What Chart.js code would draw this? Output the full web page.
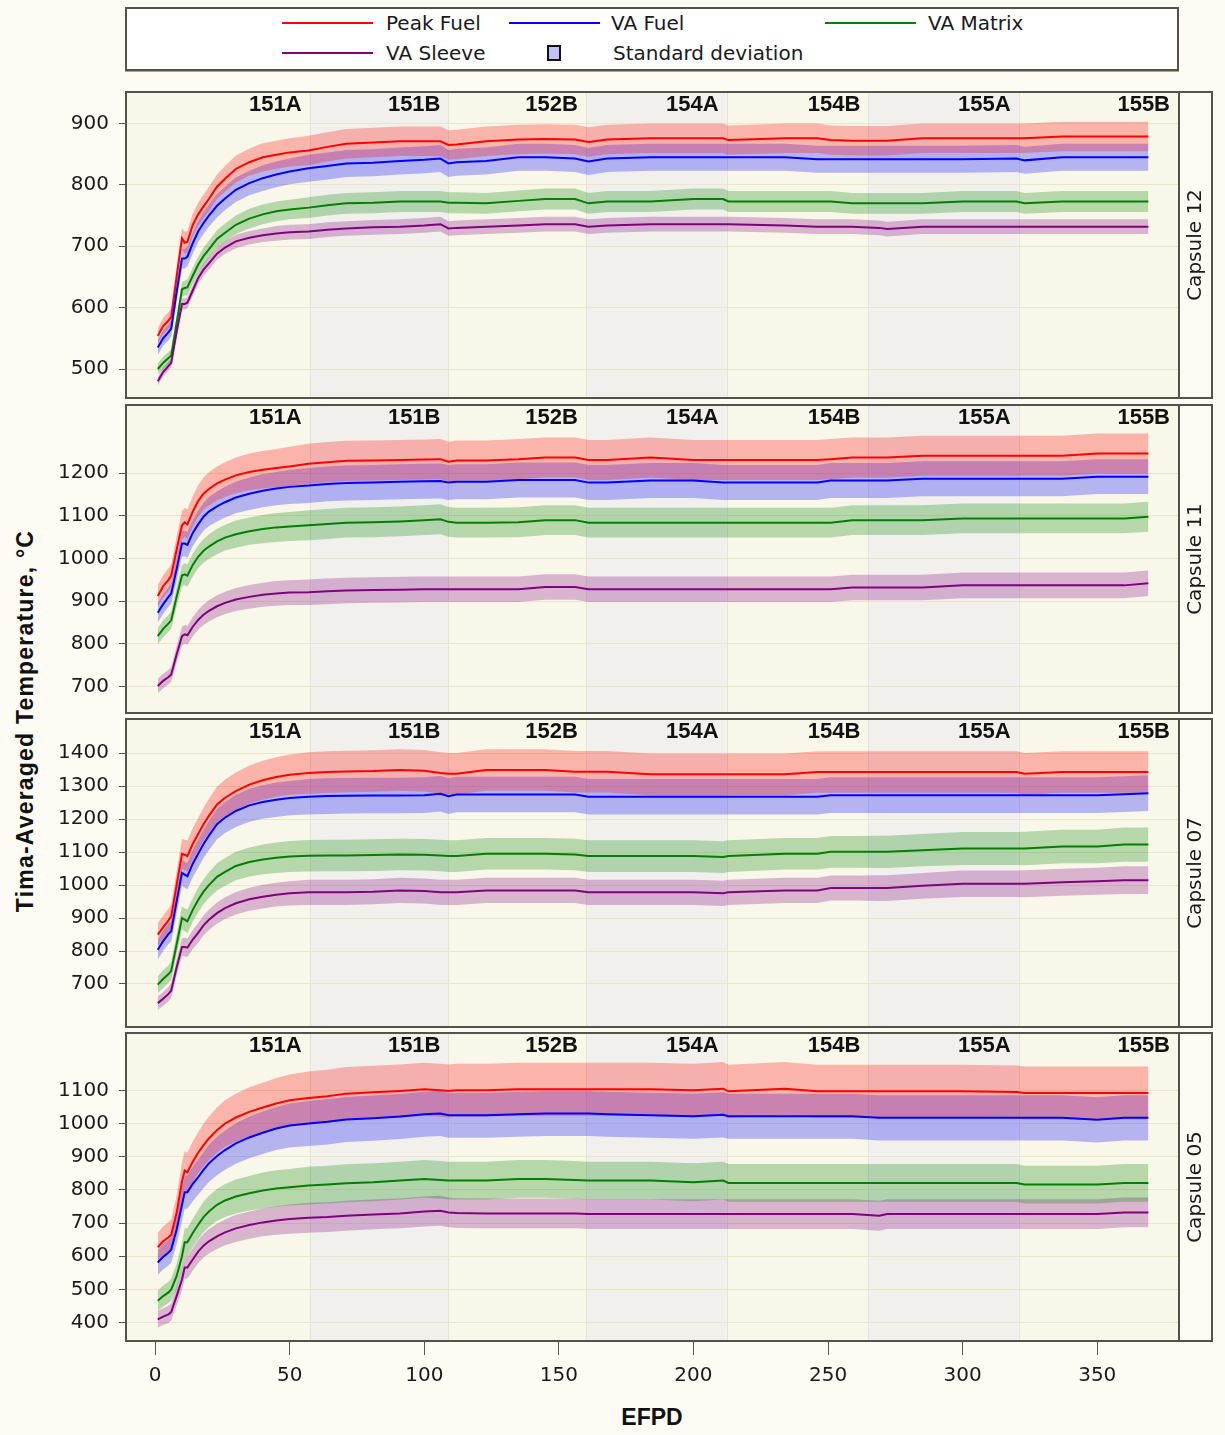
<!DOCTYPE html>
<html>
<head>
<meta charset="utf-8">
<script src="https://cdn.jsdelivr.net/npm/chart.js@4.4.1/dist/chart.umd.min.js"></script>
<style>
html,body{margin:0;padding:0;background:#FDFBF3;}
body{width:1225px;height:1435px;position:relative;overflow:hidden;font-family:"DejaVu Sans",sans-serif;color:#1a1a1a;}
canvas.pn{position:absolute;left:0;}
#legend{position:absolute;left:125px;top:7px;width:1054px;height:64px;box-sizing:border-box;background:#fff;border:2px solid #55524a;box-shadow:0 1px 0 #a9a598;}
.lline{position:absolute;height:2px;}
.ltext{position:absolute;font-size:20px;line-height:24px;white-space:nowrap;color:#1a1a1a;}
#swatch{position:absolute;left:547px;top:45px;width:14px;height:16px;box-sizing:border-box;background:#C0C0F6;border:2px solid #111;}
#ytitle{position:absolute;left:25px;top:721px;transform:translate(-50%,-50%) rotate(-90deg);font-family:"Liberation Sans",Arial,sans-serif;font-weight:bold;font-size:23px;letter-spacing:1.2px;white-space:nowrap;color:#111;}
#xtitle{position:absolute;left:652px;top:1417px;transform:translate(-50%,-50%);font-family:"Liberation Sans",Arial,sans-serif;font-weight:bold;font-size:23px;white-space:nowrap;color:#111;}
</style>
</head>
<body>
<div id="legend"></div>
<div class="lline" style="left:282px;top:22px;width:91px;background:#ff0000"></div>
<div class="ltext" style="left:386px;top:11px">Peak Fuel</div>
<div class="lline" style="left:509px;top:22px;width:91px;background:#0000ff"></div>
<div class="ltext" style="left:611px;top:11px">VA Fuel</div>
<div class="lline" style="left:825px;top:22px;width:91px;background:#008000"></div>
<div class="ltext" style="left:928px;top:11px">VA Matrix</div>
<div class="lline" style="left:282px;top:52px;width:91px;background:#800080"></div>
<div class="ltext" style="left:386px;top:41px">VA Sleeve</div>
<div id="swatch"></div>
<div class="ltext" style="left:613px;top:41px">Standard deviation</div>
<div id="ytitle">Tima-Averaged Temperature, °C</div>
<div id="xtitle">EFPD</div>
<canvas class="pn" id="p1"></canvas>
<canvas class="pn" id="p2"></canvas>
<canvas class="pn" id="p3"></canvas>
<canvas class="pn" id="p4"></canvas>
<script>
// ---------------- DATA ----------------
const efpd = [1,3,5,6,8,10,11,12,14,16,18,20,23,26,30,35,40,45,50,57,64,71,81,91,100,106,109,112,123,135,145,156,161,168,184,200,211,213,234,246,251,259,269,272,285,300,320,323,337,350,360,369];

const cycleNames = ['151A','151B','152B','154A','154B','155A','155B'];
const cycleStart = [0,57.4,109,160,212.3,265,320.8];
const cycleEnd   = [57.4,109,160,212.3,265,320.8,380];
const cycleShaded = [false,true,false,true,false,true,false];

const xTicks = [0,50,100,150,200,250,300,350];
const capsuleLabels = ['Capsule 12','Capsule 11','Capsule 07','Capsule 05'];
const yTicks12 = [500,600,700,800,900];
const yTicks11 = [700,800,900,1000,1100,1200];
const yTicks07 = [700,800,900,1000,1100,1200,1300,1400];
const yTicks05 = [400,500,600,700,800,900,1000,1100];
const seriesNames = ['Peak Fuel','VA Fuel','VA Matrix','VA Sleeve'];

// Capsule 12
const c12Peak   = [554,570,579,585,650,713,706,707,735,752,765,777,797,810,826,837,845,849,853,856,862,867,869,871,871,871,865,866,871,874,875,874,870,874,876,876,876,873,876,876,873,872,872,872,876,876,876,876,879,879,879,879];
const c12Fuel   = [535,550,560,566,625,680,680,683,705,724,738,750,766,778,792,803,811,817,822,827,831,835,836,839,841,843,835,837,839,845,845,843,838,843,845,845,845,845,845,842,842,842,842,842,842,842,843,840,845,845,845,845];
const c12Matrix = [500,510,518,522,575,630,632,633,652,670,684,695,712,722,735,745,752,757,760,763,767,770,771,773,773,773,771,771,770,774,777,777,770,773,773,777,777,773,773,773,773,770,770,770,770,773,773,770,773,773,773,773];
const c12Sleeve = [480,495,505,510,560,606,606,608,628,648,662,672,688,698,708,714,718,721,723,724,727,729,731,732,734,736,729,730,732,734,736,736,732,734,736,736,736,736,734,732,732,732,730,728,732,732,732,732,732,732,732,732];
const c12PeakSd   = [13,13,14,14,16,17,18,18,18,19,19,20,20,21,22,22,23,23,23, 24,24,24,24,24,24,24,24,24,24,24, 24,24,24,24,24,24,24,24,24,24,24, 24,24,24,24,24,24,24,24,24,24,24];
const c12FuelSd   = [12,12,13,13,14,16,16,16,17,17,18,18,19,19,20,20,21,21,21, 22,22,22,22,22,22,22,22,22,22,22, 22,22,22,22,22,22,22,22,22,22,22, 22,22,22,22,22,22,22,22,22,22,22];
const c12MatrixSd = [9,10,10,10,11,12,12,13,13,13,14,14,14,15,15,16,16,16,16, 17,17,17,17,17,17,17,17,17,17,17, 17,17,17,17,17,17,17,17,17,17,17, 17,17,17,17,17,17,17,17,17,17,17];
const c12SleeveSd = [7,7,7,7,8,9,9,9,9,9,10,10,10,10,11,11,11,12,12, 12,12,12,12,12,12,12,12,12,12,12, 12,12,12,12,12,12,12,12,12,12,12, 12,12,12,12,12,12,12,12,12,12,12];

// Capsule 11
const c11Peak   = [912,935,950,960,1020,1078,1085,1080,1110,1135,1152,1163,1176,1185,1195,1203,1208,1212,1216,1222,1226,1229,1230,1231,1232,1233,1227,1230,1230,1233,1237,1237,1231,1231,1237,1231,1231,1231,1231,1231,1233,1237,1237,1237,1241,1241,1241,1241,1241,1246,1246,1246];
const c11Fuel   = [873,893,910,918,975,1035,1035,1032,1060,1080,1098,1110,1122,1132,1143,1152,1159,1164,1168,1171,1175,1177,1178,1180,1181,1182,1178,1180,1180,1184,1184,1184,1178,1178,1183,1183,1178,1178,1178,1178,1183,1183,1183,1183,1187,1187,1187,1187,1187,1192,1192,1192];
const c11Matrix = [818,835,848,855,910,960,963,960,985,1004,1018,1028,1040,1049,1057,1064,1069,1073,1075,1078,1081,1084,1085,1087,1090,1092,1086,1084,1084,1085,1090,1090,1084,1084,1084,1084,1084,1084,1084,1084,1084,1090,1090,1090,1090,1094,1094,1094,1094,1094,1094,1098];
const c11Sleeve = [701,713,722,728,775,818,822,820,840,856,868,877,888,896,904,910,915,918,920,921,923,925,926,927,928,928,928,928,928,928,933,933,928,928,928,928,928,928,928,928,928,932,932,932,932,937,937,937,937,937,937,942];
const c11PeakSd   = [26,26,27,27,31,34,34,35,36,37,38,39,40,41,42,43,44,45,46, 47,47,47,47,47,47,47,47,47,47,47, 47,47,47,47,47,47,47,47,47,47,47, 47,47,47,47,47,47,47,47,47,47,47];
const c11FuelSd   = [23,23,23,24,27,30,30,30,31,32,33,34,35,36,37,38,39,39,40, 41,41,41,41,41,41,41,41,41,41,41, 41,41,41,41,41,41,41,41,41,41,41, 41,41,41,41,41,41,41,41,41,41,41];
const c11MatrixSd = [19,20,20,20,23,25,26,26,27,27,28,29,30,30,32,32,33,34,34, 35,35,35,35,35,35,35,35,35,35,35, 35,35,35,35,35,35,35,35,35,35,35, 35,35,35,35,35,35,35,35,35,35,35];
const c11SleeveSd = [17,17,17,17,20,22,22,22,23,23,24,25,26,26,27,28,28,29,29, 30,30,30,30,30,30,30,30,30,30,30, 30,30,30,30,30,30,30,30,30,30,30, 30,30,30,30,30,30,30,30,30,30,30];

// Capsule 07
const c07Peak   = [850,872,893,905,1000,1095,1092,1088,1125,1155,1185,1210,1245,1265,1285,1305,1318,1328,1335,1340,1343,1345,1346,1349,1347,1340,1338,1338,1349,1349,1349,1344,1344,1344,1336,1336,1336,1336,1336,1343,1343,1343,1343,1343,1343,1343,1343,1338,1343,1343,1343,1343];
const c07Fuel   = [804,830,852,860,950,1037,1032,1027,1065,1095,1125,1150,1185,1205,1225,1242,1252,1259,1264,1268,1270,1271,1272,1272,1273,1277,1270,1275,1275,1275,1275,1275,1268,1268,1268,1268,1268,1268,1268,1268,1273,1273,1273,1273,1273,1273,1273,1273,1273,1273,1276,1279];
const c07Matrix = [698,715,730,740,820,900,895,890,925,955,980,1000,1025,1040,1058,1070,1078,1083,1087,1089,1090,1090,1091,1093,1092,1090,1088,1088,1095,1095,1095,1093,1088,1088,1088,1088,1085,1088,1095,1095,1101,1101,1101,1101,1106,1111,1111,1111,1117,1117,1123,1123];
const c07Sleeve = [642,655,670,680,750,812,812,810,835,855,878,895,915,930,945,957,965,971,975,978,978,978,980,984,982,978,978,978,984,984,984,984,978,978,978,978,975,978,984,984,991,991,991,991,998,1004,1004,1004,1009,1012,1015,1015];
const c07PeakSd   = [35,35,36,37,41,45,46,47,48,49,50,52,54,55,57,58,59,60,61, 63,63,63,63,63,63,63,63,63,63,63, 63,63,63,63,63,63,63,63,63,63,63, 63,63,63,63,63,63,63,63,63,63,63];
const c07FuelSd   = [30,30,31,31,35,39,39,40,41,42,43,44,46,47,49,50,51,52,52, 54,54,54,54,54,54,54,54,54,54,54, 54,54,54,54,54,54,54,54,54,54,54, 54,54,54,54,54,54,54,54,54,54,54];
const c07MatrixSd = [26,27,27,28,31,35,35,36,36,37,38,39,41,42,43,44,45,46,47, 48,48,48,48,48,48,48,48,48,48,48, 48,48,48,48,48,48,48,48,48,48,48, 48,49,49,49,50,50,51,51,51,52,52];
const c07SleeveSd = [21,21,22,22,25,27,28,28,29,30,30,31,32,33,34,35,36,36,37, 38,38,38,38,38,38,38,38,38,38,38, 38,38,38,38,38,38,38,38,38,38,38, 38,39,39,39,40,40,41,41,41,42,42];

// Capsule 05
const c05Peak   = [627,645,657,665,730,825,858,853,885,912,935,955,980,1000,1018,1035,1048,1060,1070,1077,1082,1090,1094,1098,1103,1100,1098,1100,1100,1103,1103,1103,1103,1103,1103,1100,1105,1097,1105,1097,1097,1097,1097,1097,1097,1097,1095,1092,1092,1092,1092,1092];
const c05Fuel   = [581,598,611,620,680,755,793,793,818,838,860,880,902,920,940,958,972,985,994,1000,1005,1012,1016,1021,1028,1030,1025,1025,1025,1028,1030,1030,1030,1028,1025,1022,1026,1022,1022,1022,1022,1022,1017,1017,1017,1017,1017,1017,1017,1011,1017,1017];
const c05Matrix = [466,480,491,500,540,600,642,642,670,695,718,735,755,768,780,790,798,804,808,813,816,820,823,828,833,830,828,828,828,833,833,830,828,828,828,823,828,821,821,821,821,821,821,821,821,821,821,816,816,816,821,821];
const c05Sleeve = [410,418,425,432,480,530,566,566,590,614,632,645,660,672,684,694,702,708,712,716,718,722,726,729,735,737,732,730,729,729,729,729,727,727,727,727,727,727,727,727,727,727,722,727,727,727,727,727,727,727,732,732];
const c05PeakSd   = [44,45,46,46,52,58,58,59,61,62,64,66,68,70,72,74,75,77,78, 80,80,80,80,80,80,80,80,80,80,80, 80,80,80,80,80,80,80,80,80,80,80, 80,80,80,80,80,80,80,80,80,80,80];
const c05FuelSd   = [37,38,39,39,44,49,50,50,52,53,54,56,58,59,61,63,64,65,66, 68,68,68,68,68,68,68,68,68,68,68, 68,68,68,68,68,68,68,68,68,68,68, 68,68,68,68,68,68,68,68,68,68,68];
const c05MatrixSd = [31,32,32,33,37,41,42,42,43,44,46,47,48,50,51,52,54,55,55, 57,57,57,57,57,57,57,57,57,57,57, 57,57,57,57,57,57,57,57,57,57,57, 57,57,57,57,57,57,57,57,57,57,57];
const c05SleeveSd = [25,25,26,26,29,32,33,33,34,35,36,37,38,39,41,41,42,43,44, 45,45,45,45,45,45,45,45,45,45,45, 45,45,45,45,45,45,45,45,45,45,45, 45,45,45,45,45,45,45,45,45,45,45];

// ---------------- STYLE / LAYOUT ----------------
const lineColors = ['#ff0000','#0000ff','#008000','#800080'];
const bandColors = ['rgba(255,0,0,0.27)','rgba(0,0,255,0.27)','rgba(0,128,0,0.27)','rgba(128,0,128,0.27)'];
const FONT = '"DejaVu Sans", sans-serif';
const PLOT_LEFT = 126, PLOT_RIGHT = 1178, STRIP_RIGHT = 1212;

const panels = [
  {canvas:'p1', top:92,   h:306, min:452.8, max:951.4,  ticks:yTicks12, label:capsuleLabels[0],
   means:[c12Peak,c12Fuel,c12Matrix,c12Sleeve], sds:[c12PeakSd,c12FuelSd,c12MatrixSd,c12SleeveSd]},
  {canvas:'p2', top:405,  h:308, min:637.7, max:1360,   ticks:yTicks11, label:capsuleLabels[1],
   means:[c11Peak,c11Fuel,c11Matrix,c11Sleeve], sds:[c11PeakSd,c11FuelSd,c11MatrixSd,c11SleeveSd]},
  {canvas:'p3', top:719,  h:308, min:569.5, max:1504,   ticks:yTicks07, label:capsuleLabels[2],
   means:[c07Peak,c07Fuel,c07Matrix,c07Sleeve], sds:[c07PeakSd,c07FuelSd,c07MatrixSd,c07SleeveSd]},
  {canvas:'p4', top:1033, h:308, min:344.6, max:1272.7, ticks:yTicks05, label:capsuleLabels[3],
   means:[c05Peak,c05Fuel,c05Matrix,c05Sleeve], sds:[c05PeakSd,c05FuelSd,c05MatrixSd,c05SleeveSd]}
];

const decor = {
  id:'decor',
  beforeDraw(chart){
    const {ctx, chartArea:a, scales:{x}} = chart;
    ctx.save();
    ctx.fillStyle = '#F9F7EA';
    ctx.fillRect(a.left, a.top, a.right-a.left, a.bottom-a.top);
    for (let i=0;i<cycleNames.length;i++){
      const x0 = Math.max(a.left, x.getPixelForValue(cycleStart[i]));
      const x1 = Math.min(a.right, x.getPixelForValue(cycleEnd[i]));
      if (cycleShaded[i]) { ctx.fillStyle = '#F1F0EC'; ctx.fillRect(x0, a.top, x1-x0, a.bottom-a.top); }
    }
    ctx.strokeStyle = '#E7E3D3'; ctx.lineWidth = 1;
    for (let i=0;i<cycleNames.length-1;i++){
      const xe = Math.round(x.getPixelForValue(cycleEnd[i]))+0.5;
      ctx.beginPath(); ctx.moveTo(xe, a.top); ctx.lineTo(xe, a.bottom); ctx.stroke();
    }
    ctx.restore();
  },
  afterDraw(chart, args, opts){
    const {ctx, chartArea:a, scales:{x}} = chart;
    ctx.save();
    ctx.font = 'bold 22px "Liberation Sans", Arial, sans-serif';
    ctx.fillStyle = '#111'; ctx.textAlign = 'right'; ctx.textBaseline = 'middle';
    for (let i=0;i<cycleNames.length;i++){
      const xr = Math.min(x.getPixelForValue(cycleEnd[i]) - 8, a.right - 8);
      ctx.fillText(cycleNames[i], xr, a.top + 13);
    }
    // frame
    ctx.strokeStyle = '#55524a'; ctx.lineWidth = 2;
    ctx.strokeRect(a.left, a.top, STRIP_RIGHT - a.left, a.bottom - a.top);
    ctx.beginPath(); ctx.moveTo(a.right+1, a.top); ctx.lineTo(a.right+1, a.bottom); ctx.stroke();
    // strip label
    ctx.translate((a.right + STRIP_RIGHT)/2 + 1, (a.top + a.bottom)/2);
    ctx.rotate(-Math.PI/2);
    ctx.font = '20px ' + FONT; ctx.fillStyle = '#1a1a1a';
    ctx.textAlign = 'center'; ctx.textBaseline = 'middle';
    ctx.fillText(opts.label, 0, 0);
    ctx.restore();
  }
};

function buildDatasets(p){
  const ds = [];
  for (let s=0;s<4;s++){
    ds.push({label: seriesNames[s]+' +SD', data: efpd.map((e,i)=>({x:e, y:p.means[s][i]+p.sds[s][i]})),
      borderWidth:0, borderColor:'rgba(0,0,0,0)', backgroundColor:bandColors[s], fill:'+1', pointRadius:0, tension:0});
    ds.push({label: seriesNames[s]+' -SD', data: efpd.map((e,i)=>({x:e, y:p.means[s][i]-p.sds[s][i]})),
      borderWidth:0, borderColor:'rgba(0,0,0,0)', backgroundColor:'rgba(0,0,0,0)', fill:false, pointRadius:0, tension:0});
  }
  for (let s=3;s>=0;s--){
    ds.push({label: seriesNames[s], data: efpd.map((e,i)=>({x:e, y:p.means[s][i]})),
      borderColor: lineColors[s], borderWidth:2, fill:false, pointRadius:0, tension:0});
  }
  return ds;
}

panels.forEach((p, idx)=>{
  const bottom = idx === panels.length-1;
  const PADT = 14, XH = bottom ? 62 : 0;
  const cv = document.getElementById(p.canvas);
  cv.width = 1225; cv.height = p.h + PADT*2 + XH;
  cv.style.top = (p.top - PADT) + 'px';
  new Chart(cv, {
    type:'line',
    data:{datasets: buildDatasets(p)},
    plugins:[decor],
    options:{
      responsive:false, animation:false, events:[],
      layout:{padding:{left:0, right:1225-PLOT_RIGHT, top:PADT, bottom:PADT}},
      plugins:{legend:{display:false}, tooltip:{enabled:false}, filler:{drawTime:'beforeDatasetsDraw'}, decor:{label:p.label}},
      scales:{
        x:{type:'linear', min:-10.8, max:380, display: bottom,
           afterBuildTicks(sc){ sc.ticks = xTicks.map(v=>({value:v})); },
           afterFit(sc){ if (bottom) sc.height = XH; sc.paddingLeft = 0; sc.paddingRight = 0; },
           grid:{drawOnChartArea:false, tickLength:14, tickColor:'#555', tickWidth:1},
           border:{display:false},
           ticks:{font:{family:'DejaVu Sans', size:20}, color:'#1a1a1a', padding:9, maxRotation:0,
                  callback:(v)=>String(v)}},
        y:{type:'linear', min:p.min, max:p.max,
           afterBuildTicks(sc){ sc.ticks = p.ticks.map(v=>({value:v})); },
           afterFit(sc){ sc.width = PLOT_LEFT; sc.paddingTop = 0; sc.paddingBottom = 0; },
           grid:{color:'#EAE5CB', lineWidth:1, tickLength:7, tickColor:'#555', tickWidth:1},
           border:{display:false},
           ticks:{font:{family:'DejaVu Sans', size:20}, color:'#1a1a1a', padding:10,
                  callback:(v)=>String(v)}}
      }
    }
  });
});
</script>
</body>
</html>
